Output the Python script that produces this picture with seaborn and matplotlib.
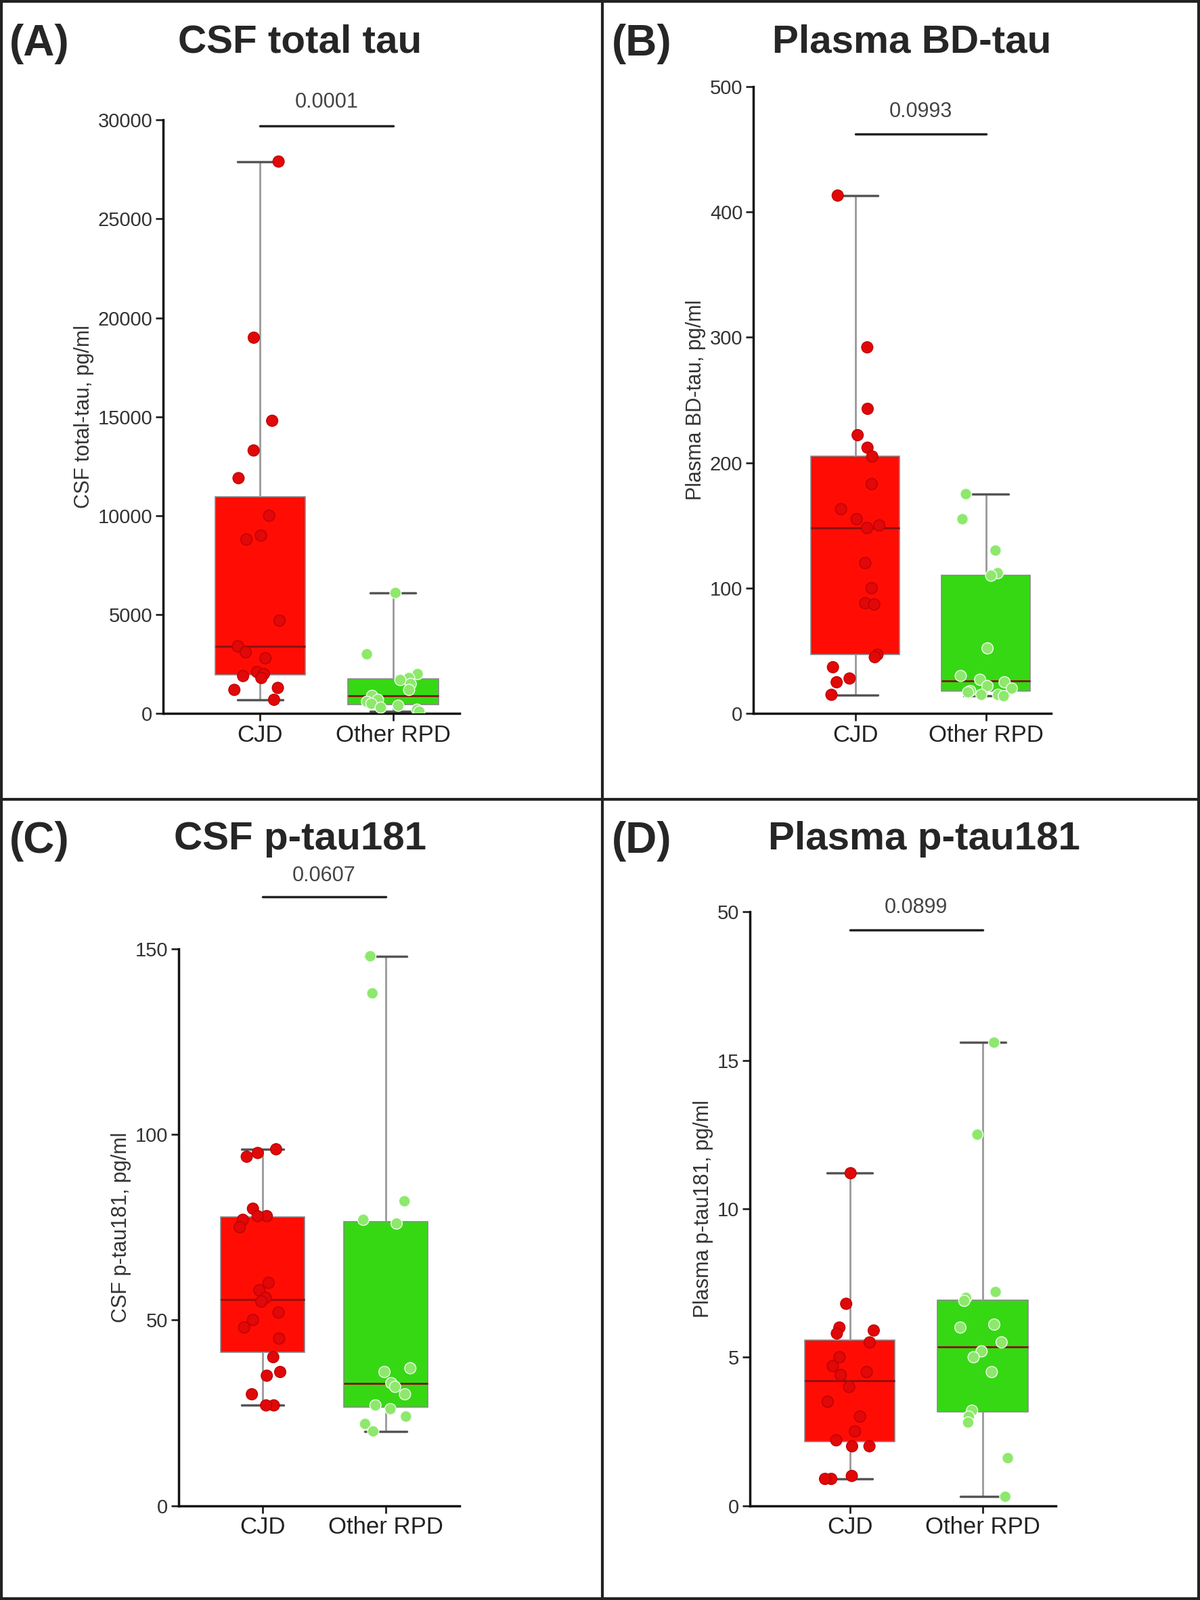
import matplotlib
matplotlib.use("Agg")
import matplotlib.pyplot as plt
import seaborn as sns
import pandas as pd
import numpy as np
from matplotlib.lines import Line2D

sns.set_theme(style="ticks")
plt.rcParams['font.family'] = ['Liberation Sans', 'DejaVu Sans']

groups = ["CJD", "Other RPD"]

a_cjd = [27900, 19000, 14800, 13300, 11900, 10000, 9000, 8800, 4700, 3400, 3100, 2800, 2100, 2000, 1900, 1800, 1300, 1200, 700]
a_oth = [6100, 3000, 2000, 1800, 1700, 1500, 1200, 900, 700, 600, 500, 400, 300, 200, 100]
b_cjd = [413, 292, 243, 222, 212, 205, 183, 163, 155, 150, 148, 120, 100, 88, 87, 47, 45, 37, 28, 25, 15]
b_oth = [175, 155, 130, 112, 110, 52, 30, 27, 25, 22, 20, 18, 17, 15, 15, 14]
c_cjd = [96, 95, 94, 80, 78, 78, 77, 75, 60, 58, 56, 55, 52, 50, 48, 45, 40, 36, 35, 30, 27, 27]
c_oth = [148, 138, 82, 77, 76, 37, 36, 33, 32, 30, 27, 26, 24, 22, 20]
d_cjd = [11.2, 6.8, 6.0, 5.9, 5.8, 5.5, 5.0, 4.7, 4.5, 4.4, 4.0, 3.5, 3.0, 2.5, 2.2, 2.0, 2.0, 1.0, 0.9, 0.9]
d_oth = [15.6, 12.5, 7.2, 7.0, 6.9, 6.1, 6.0, 5.5, 5.2, 5.0, 4.5, 3.2, 3.0, 2.8, 1.6, 0.3]

panels = [
    dict(letter="(A)", title="CSF total tau", ylabel="CSF total-tau, pg/ml", cjd=a_cjd, oth=a_oth,
         ticks=[0, 5000, 10000, 15000, 20000, 25000, 30000], labels=["0", "5000", "10000", "15000", "20000", "25000", "30000"],
         ymax=30000, p="0.0001", bar=29700, txt=30400, pos=[0.136, 0.554, 0.247, 0.371], xlim=(-0.73, 1.5),
         lt=(0.008, 0.985), tt=(0.25, 0.985)),
    dict(letter="(B)", title="Plasma BD-tau", ylabel="Plasma BD-tau, pg/ml", cjd=b_cjd, oth=b_oth,
         ticks=[0, 100, 200, 300, 400, 500], labels=["0", "100", "200", "300", "400", "500"],
         ymax=500, p="0.0993", bar=462, txt=472, pos=[0.628, 0.554, 0.248, 0.392], xlim=(-0.78, 1.5),
         lt=(0.51, 0.985), tt=(0.76, 0.985)),
    dict(letter="(C)", title="CSF p-tau181", ylabel="CSF p-tau181, pg/ml", cjd=c_cjd, oth=c_oth,
         ticks=[0, 50, 100, 150], labels=["0", "50", "100", "150"],
         ymax=150, p="0.0607", bar=164, txt=167, pos=[0.149, 0.059, 0.234, 0.348], xlim=(-0.68, 1.6),
         lt=(0.008, 0.487), tt=(0.25, 0.487)),
    dict(letter="(D)", title="Plasma p-tau181", ylabel="Plasma p-tau181, pg/ml", cjd=d_cjd, oth=d_oth,
         ticks=[0, 5, 10, 15, 20], labels=["0", "5", "10", "15", "50"],
         ymax=20, p="0.0899", bar=19.4, txt=19.8, pos=[0.625, 0.059, 0.255, 0.371], xlim=(-0.75, 1.55),
         lt=(0.51, 0.487), tt=(0.77, 0.487)),
]

fig = plt.figure(figsize=(17.73, 23.64), dpi=100)
fig.patch.set_facecolor("white")

box_colors = {"CJD": "#ff0d05", "Other RPD": "#36d814"}
pt_colors = {"CJD": "#e00808", "Other RPD": "#8ee86c"}
edge_colors = ["#c00000", "#f0fff0"]

for P in panels:
    ax = fig.add_axes(P["pos"])
    df = pd.DataFrame({"group": ["CJD"] * len(P["cjd"]) + ["Other RPD"] * len(P["oth"]),
                       "value": P["cjd"] + P["oth"]})
    sns.boxplot(data=df, x="group", y="value", hue="group", order=groups, palette=box_colors,
                saturation=1, whis=(0, 100), width=0.68, showfliers=False, ax=ax, legend=False,
                boxprops=dict(edgecolor="#888888", linewidth=1.2),
                medianprops=dict(color="#8a1010", linewidth=2),
                whiskerprops=dict(color="#999999", linewidth=2),
                capprops=dict(color="#555555", linewidth=2.5))
    sns.stripplot(data=df, x="group", y="value", hue="group", order=groups, palette=pt_colors,
                  jitter=0.2, size=12, linewidth=1, edgecolor="#cccccc", ax=ax, legend=False)
    for coll, ec in zip(ax.collections[-2:], edge_colors):
        coll.set_edgecolor(ec)
    ax.set_ylim(0, P["ymax"])
    ax.set_xlim(*P["xlim"])
    ax.set_yticks(P["ticks"])
    ax.set_yticklabels(P["labels"], fontsize=21, color="#333333")
    ax.tick_params(axis="x", labelsize=25, length=8, width=2, colors="#222222")
    ax.tick_params(axis="y", length=8, width=2)
    ax.set_xlabel("")
    ax.set_ylabel(P["ylabel"], fontsize=22, color="#333333")
    ax.set_facecolor("none")
    sns.despine(ax=ax)
    for s in ["left", "bottom"]:
        ax.spines[s].set_linewidth(2.5)
        ax.spines[s].set_color("#111111")
    ax.plot([0, 1], [P["bar"], P["bar"]], color="#222222", lw=2.5, clip_on=False)
    ax.text(0.5, P["txt"], P["p"], ha="center", va="bottom", fontsize=22, color="#444444", clip_on=False)
    fig.text(P["lt"][0], P["lt"][1], P["letter"], fontsize=46, fontweight="bold", va="top", ha="left")
    fig.text(P["tt"][0], P["tt"][1], P["title"], fontsize=42, fontweight="bold", va="top", ha="center")

for line in [Line2D([0.502, 0.502], [0, 1]), Line2D([0, 1], [0.5006, 0.5006]),
             Line2D([0.001, 0.001], [0, 1]), Line2D([0.999, 0.999], [0, 1]),
             Line2D([0, 1], [0.999, 0.999]), Line2D([0, 1], [0.001, 0.001])]:
    line.set_color("#222222"); line.set_linewidth(3); line.set_transform(fig.transFigure)
    fig.add_artist(line)

fig.savefig("out.png", dpi=100, facecolor="white")
